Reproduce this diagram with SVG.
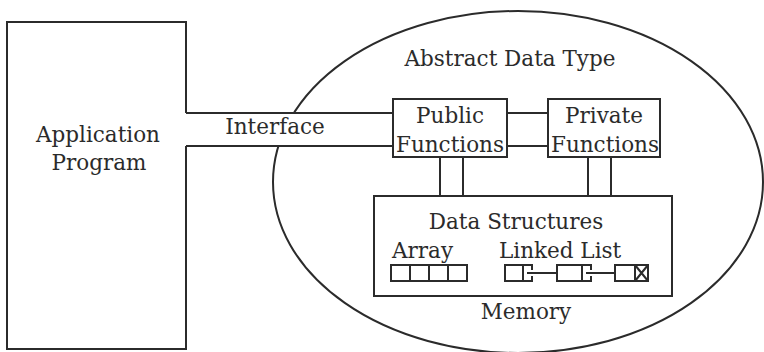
<svg xmlns="http://www.w3.org/2000/svg" width="764" height="352" viewBox="0 0 764 352">
<style>
.s{fill:none;stroke:#2b2b2b;stroke-width:2}
.w{fill:#fff;stroke:#2b2b2b;stroke-width:2}
.t{font-family:"DejaVu Serif","Liberation Serif",serif;font-size:21.5px;fill:#2b2b2b;text-anchor:middle}
.l{text-anchor:start}
</style>
<rect width="764" height="352" fill="#fff"/>
<g id="adt">
<ellipse class="s" cx="518" cy="182" rx="245" ry="171"/>
<text class="t" x="510" y="66">Abstract Data Type</text>
</g>
<g id="connectors">
<rect x="187" y="114" width="205" height="31" fill="#fff"/>
<path class="s" d="M186 113H393M186 146H393M507 113H548M507 146H548M440 157V196M463 157V196M588 157V196M611 157V196"/>
<text class="t" x="275" y="134">Interface</text>
</g>
<g id="app">
<path class="s" d="M186 113V22H7V349H186V146"/>
<text class="t" x="98" y="142">Application</text>
<text class="t" x="99" y="170">Program</text>
</g>
<g id="public">
<rect class="w" x="393" y="99" width="114" height="58"/>
<text class="t" x="450" y="123">Public</text>
<text class="t" x="450" y="152">Functions</text>
</g>
<g id="private">
<rect class="w" x="548" y="99" width="112" height="58"/>
<text class="t" x="604" y="123">Private</text>
<text class="t" x="605" y="152">Functions</text>
</g>
<g id="data">
<rect class="w" x="374" y="196" width="298" height="100"/>
<text class="t" x="516" y="229">Data Structures</text>
<text class="t l" x="392" y="258">Array</text>
<text class="t l" x="499" y="258">Linked List</text>
<g id="array">
<rect class="s" x="391" y="265" width="76" height="16"/>
<path class="s" d="M410 265V281M429 265V281M448 265V281"/>
</g>
<g id="linkedlist">
<path class="s" d="M532 270V265H505V281H532V276M523 265V281M527 273H557"/>
<path class="s" d="M591 270V265H557V281H591V276M582 265V281M586 273H615"/>
<rect class="s" x="615" y="265" width="33" height="16"/>
<path class="s" d="M635 265V281M635 265L648 281M648 265L635 281"/>
</g>
<text class="t" x="526" y="319">Memory</text>
</g>
</svg>
